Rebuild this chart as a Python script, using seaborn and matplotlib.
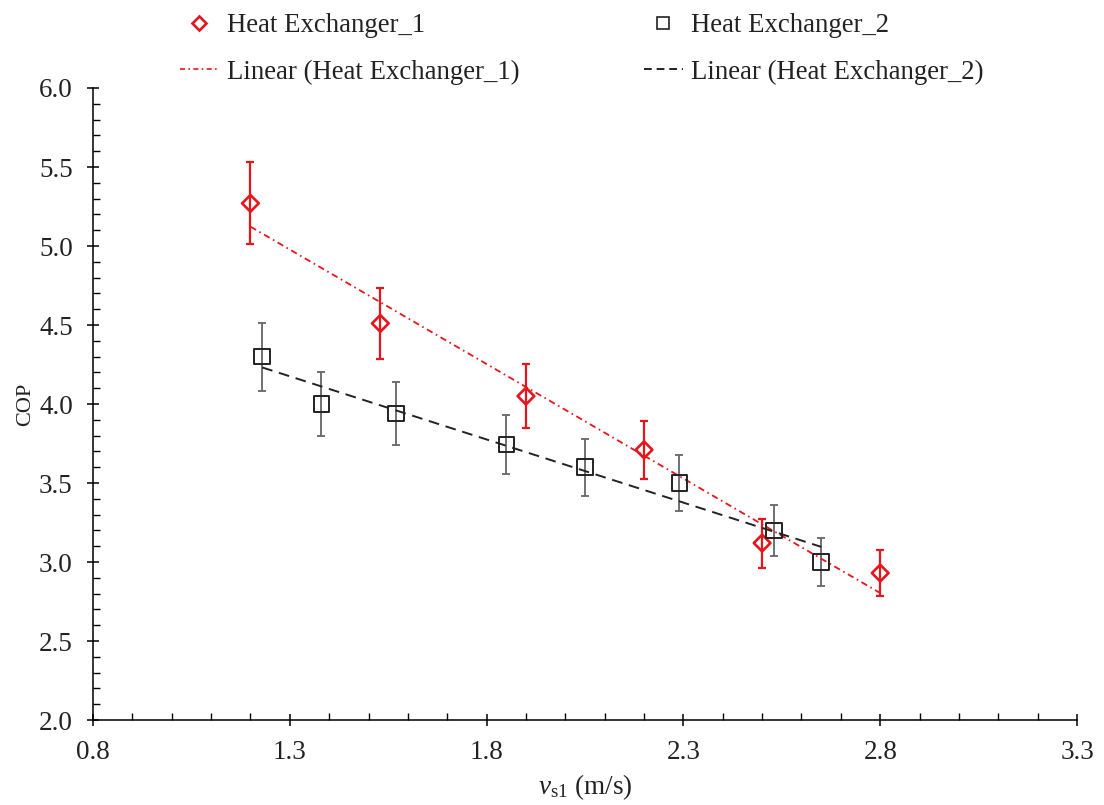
import numpy as np
import pandas as pd
import seaborn as sns
import matplotlib
matplotlib.use("Agg")
import matplotlib.pyplot as plt
from matplotlib.lines import Line2D
from matplotlib.ticker import MultipleLocator, FormatStrFormatter

# Measured COP against air velocity for the two heat exchangers
vs1_he1 = [1.20, 1.53, 1.90, 2.20, 2.50, 2.80]
cop_he1 = [5.27, 4.51, 4.05, 3.71, 3.12, 2.93]
err_he1 = [0.26, 0.225, 0.20, 0.185, 0.155, 0.147]

vs1_he2 = [1.23, 1.38, 1.57, 1.85, 2.05, 2.29, 2.53, 2.65]
cop_he2 = [4.30, 4.00, 3.94, 3.745, 3.60, 3.50, 3.20, 3.00]
err_he2 = [0.215, 0.20, 0.20, 0.187, 0.18, 0.175, 0.16, 0.15]

x_ticks = [0.8, 1.3, 1.8, 2.3, 2.8, 3.3]
y_ticks = [2.0, 2.5, 3.0, 3.5, 4.0, 4.5, 5.0, 5.5, 6.0]

labels = ["Heat Exchanger_1", "Heat Exchanger_2",
          "Linear (Heat Exchanger_1)", "Linear (Heat Exchanger_2)"]

df1 = pd.DataFrame({"v": vs1_he1, "cop": cop_he1, "err": err_he1})
df2 = pd.DataFrame({"v": vs1_he2, "cop": cop_he2, "err": err_he2})

sns.set_theme(style="ticks")
plt.rcParams["font.family"] = ["Liberation Serif", "DejaVu Serif"]
plt.rcParams["mathtext.fontset"] = "custom"
plt.rcParams["mathtext.rm"] = "Liberation Serif"
plt.rcParams["mathtext.it"] = "Liberation Serif:italic"

RED = "#e8141b"
BLACK = "#222222"
GREY = "#666666"
TEXT = "#222222"

fig = plt.figure(figsize=(11.04, 8.05), dpi=100)
ax = fig.add_axes([93 / 1104, 1 - 720 / 805, (1077 - 93) / 1104, (720 - 88) / 805])

# error bars
ax.errorbar(df1["v"], df1["cop"], yerr=df1["err"], fmt="none", ecolor=RED,
            elinewidth=1.6, capsize=2.6, capthick=1.6, zorder=2)
ax.errorbar(df2["v"], df2["cop"], yerr=df2["err"], fmt="none", ecolor=GREY,
            elinewidth=1.3, capsize=2.6, capthick=1.3, zorder=2)

# linear trend lines
sns.regplot(data=df1, x="v", y="cop", ax=ax, scatter=False, ci=None, truncate=True,
            line_kws=dict(color=RED, lw=1.3, dashes=(3.6, 2.1, 0.9, 2.1), zorder=3))
sns.regplot(data=df2, x="v", y="cop", ax=ax, scatter=False, ci=None, truncate=True,
            line_kws=dict(color=BLACK, lw=1.4, dashes=(5.5, 3.5), zorder=3))

# hollow markers
sns.scatterplot(data=df1, x="v", y="cop", ax=ax, marker="D", s=72,
                facecolors="none", edgecolor=RED, linewidth=1.9, zorder=4)
sns.scatterplot(data=df2, x="v", y="cop", ax=ax, marker="s", s=125,
                facecolors="none", edgecolor=BLACK, linewidth=1.4, zorder=4)

ax.set_xlim(x_ticks[0], x_ticks[-1])
ax.set_ylim(y_ticks[0], y_ticks[-1])
ax.set_xticks(x_ticks)
ax.set_yticks(y_ticks)
ax.xaxis.set_minor_locator(MultipleLocator(0.1))
ax.yaxis.set_minor_locator(MultipleLocator(0.1))
ax.yaxis.set_major_formatter(FormatStrFormatter("%.1f"))
ax.xaxis.set_major_formatter(FormatStrFormatter("%.1f"))
ax.tick_params(which="major", direction="inout", length=9, width=1.1,
               labelsize=19.5, color="black", labelcolor=TEXT)
ax.tick_params(axis="x", which="major", pad=10)
ax.tick_params(axis="y", which="major", pad=10)
ax.tick_params(which="minor", direction="in", length=5, width=1.0, color="black")
for side in ("top", "right"):
    ax.spines[side].set_visible(False)
for side in ("left", "bottom"):
    ax.spines[side].set_linewidth(1.1)
    ax.spines[side].set_color("black")

ax.set_xlabel(r"$v_{\mathrm{s1}}$ (m/s)", fontsize=19.5, color=TEXT, labelpad=5)
ax.set_ylabel("COP", fontsize=16, color=TEXT, labelpad=3)

# legend handles
h_he1 = Line2D([], [], ls="none", marker="D", ms=7, mfc="none", mec=RED, mew=1.9)
h_he2 = Line2D([], [], ls="none", marker="s", ms=8.5, mfc="none", mec=BLACK, mew=1.2)
h_fit1 = Line2D([], [], color=RED, lw=1.2, dashes=(3, 2, 1, 2))
h_fit2 = Line2D([], [], color=BLACK, lw=1.4, dashes=(4, 2.5))

leg_kw = dict(frameon=False, fontsize=19.3, handlelength=1.45, handletextpad=0.3,
              labelspacing=0.8, borderpad=0, borderaxespad=0, loc="upper left",
              labelcolor=TEXT)
fig.legend([h_he1, h_fit1], [labels[0], labels[2]],
           bbox_to_anchor=(180 / 1104, 1 - 13 / 805), **leg_kw)
fig.legend([h_he2, h_fit2], [labels[1], labels[3]],
           bbox_to_anchor=(644 / 1104, 1 - 13 / 805), **leg_kw)

fig.savefig("out.png", dpi=100)
